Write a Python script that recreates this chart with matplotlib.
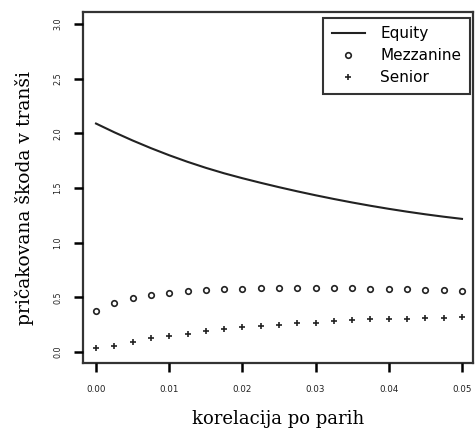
import matplotlib
matplotlib.use("Agg")
import matplotlib.pyplot as plt

# pairwise correlation grid
korelacija = [0.0, 0.0025, 0.005, 0.0075, 0.01, 0.0125, 0.015, 0.0175, 0.02, 0.0225,
              0.025, 0.0275, 0.03, 0.0325, 0.035, 0.0375, 0.04, 0.0425, 0.045, 0.0475, 0.05]

# expected tranche loss
equity = [2.09, 2.01, 1.935, 1.865, 1.80, 1.74, 1.685, 1.635, 1.59, 1.548,
          1.508, 1.47, 1.434, 1.40, 1.368, 1.338, 1.31, 1.284, 1.26, 1.238, 1.218]
mezzanine = [0.38, 0.45, 0.49, 0.52, 0.54, 0.555, 0.565, 0.575, 0.58, 0.585,
             0.585, 0.585, 0.585, 0.585, 0.585, 0.58, 0.58, 0.575, 0.57, 0.565, 0.56]
senior = [0.04, 0.06, 0.09, 0.125, 0.145, 0.165, 0.19, 0.21, 0.23, 0.24,
          0.25, 0.265, 0.27, 0.28, 0.29, 0.30, 0.30, 0.305, 0.315, 0.315, 0.32]

xticks = [0.0, 0.01, 0.02, 0.03, 0.04, 0.05]
yticks = [0.0, 0.5, 1.0, 1.5, 2.0, 2.5, 3.0]

fig = plt.figure(figsize=(4.75, 4.32), dpi=100)
ax = fig.add_axes([0.1747, 0.1597, 0.821, 0.8125])

ax.plot(korelacija, equity, color="#222222", lw=1.5, label="Equity")
ax.plot(korelacija, mezzanine, ls="none", marker="o", ms=4, mfc="none",
        mec="#222222", mew=1.2, label="Mezzanine")
ax.plot(korelacija, senior, ls="none", marker="+", ms=5, mec="#222222",
        mew=1.2, label="Senior")

ax.set_xlim(-0.00178, 0.0515)
ax.set_ylim(-0.1, 3.11)
ax.set_xticks(xticks)
ax.set_xticklabels(["%.2f" % t for t in xticks])
ax.set_yticks(yticks)
ax.set_yticklabels(["%.1f" % t for t in yticks], rotation=90, va="center")
ax.tick_params(axis="both", length=0, labelcolor="#222222")
ax.tick_params(axis="x", pad=16, labelsize=6.3)
ax.tick_params(axis="y", pad=15, labelsize=5.8)

# tick marks hanging outside the box, drawn at the tick positions
ax.vlines(xticks, -0.026, 0, transform=ax.get_xaxis_transform(),
          colors="black", lw=1.8, clip_on=False, zorder=5)
ax.hlines(yticks, -0.023, 0, transform=ax.get_yaxis_transform(),
          colors="black", lw=1.8, clip_on=False, zorder=5)

for s in ax.spines.values():
    s.set_linewidth(1.6)
    s.set_color("#333333")

ax.set_xlabel("korelacija po parih", family="DejaVu Serif", fontsize=13, labelpad=11)
ax.set_ylabel("pričakovana škoda v tranši", family="DejaVu Serif", fontsize=13.5)
ax.yaxis.set_label_coords(-0.125, 0.47)

leg = ax.legend(loc="upper right", bbox_to_anchor=(0.992, 0.983), fancybox=False,
                framealpha=1, edgecolor="#333333",
                prop={"family": "DejaVu Sans", "size": 11},
                handlelength=2.2, handletextpad=1.0, labelspacing=0.45,
                borderpad=0.55, borderaxespad=0)
leg.get_frame().set_linewidth(1.5)

fig.savefig("out.png", dpi=100)
